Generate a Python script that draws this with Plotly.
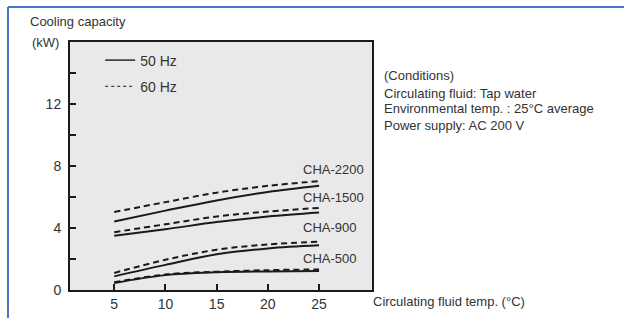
import plotly.graph_objects as go

temps = [5, 10, 15, 20, 25]
models = ["CHA-2200", "CHA-1500", "CHA-900", "CHA-500"]
cap_50hz = {
    "CHA-2200": [4.42, 5.12, 5.78, 6.32, 6.72],
    "CHA-1500": [3.50, 3.92, 4.38, 4.74, 5.00],
    "CHA-900": [0.88, 1.62, 2.30, 2.68, 2.88],
    "CHA-500": [0.45, 0.96, 1.14, 1.20, 1.22],
}
cap_60hz = {
    "CHA-2200": [5.03, 5.67, 6.28, 6.72, 7.02],
    "CHA-1500": [3.73, 4.24, 4.74, 5.06, 5.30],
    "CHA-900": [1.10, 1.95, 2.60, 2.94, 3.12],
    "CHA-500": [0.50, 1.00, 1.18, 1.28, 1.33],
}
label_y = [7.78, 5.98, 4.05, 2.06]
legend_names = ["50 Hz", "60 Hz"]
y_tickvals = [0, 2, 4, 6, 8, 10, 12, 14]
y_ticktext = ["0", "", "4", "", "8", "", "12", ""]
x_tickvals = [5, 10, 15, 20, 25]
conditions = ["(Conditions)", "Circulating fluid: Tap water",
              "Environmental temp. : 25°C average", "Power supply: AC 200 V"]
conditions_y = [0.863, 0.794, 0.730, 0.665]

FONT = "Liberation Sans, Arial, sans-serif"
INK = "#1a1a1a"
TXT = "#333333"

fig = go.Figure()
for i, m in enumerate(models):
    fig.add_trace(go.Scatter(x=temps, y=cap_60hz[m], mode="lines", line_shape="spline",
                             line=dict(color=INK, width=2, dash="6px,4px"),
                             showlegend=False, hoverinfo="skip"))
    fig.add_trace(go.Scatter(x=temps, y=cap_50hz[m], mode="lines", line_shape="spline",
                             line=dict(color=INK, width=2),
                             showlegend=False, hoverinfo="skip"))
fig.add_trace(go.Scatter(x=[None], y=[None], mode="lines", name=legend_names[0],
                         line=dict(color="#444", width=1.6), legendgroup="a"))
fig.add_trace(go.Scatter(x=[None], y=[None], mode="lines", name=legend_names[1],
                         line=dict(color="#444", width=1.2, dash="3px,3px"), legendgroup="b"))

for m, ly in zip(models, label_y):
    fig.add_annotation(x=23.2, y=ly, text=m, showarrow=False, xanchor="left",
                       yanchor="middle", font=dict(family=FONT, size=13, color=TXT))

fig.update_layout(
    width=624, height=318,
    margin=dict(l=70, r=252, t=42, b=28, autoexpand=False),
    paper_bgcolor="white", plot_bgcolor="#e9e9e9",
    font=dict(family=FONT, size=14, color=TXT),
    showlegend=True,
    legend=dict(x=0.1, y=0.99, xanchor="left", yanchor="top", bgcolor="rgba(0,0,0,0)",
                font=dict(family=FONT, size=14, color=TXT), tracegroupgap=5,
                itemwidth=30),
    xaxis=dict(range=[0.68, 30.17], tickvals=x_tickvals, ticks="inside", ticklen=6,
               tickwidth=1.5, tickcolor=INK, showgrid=False, zeroline=False,
               showline=True, linecolor=INK, linewidth=2, mirror=True,
               ticklabelstandoff=0, automargin=False,
               tickfont=dict(family=FONT, size=14, color=TXT)),
    yaxis=dict(range=[0, 16], tickvals=y_tickvals, ticktext=y_ticktext, ticks="inside",
               ticklen=6, tickwidth=1.5, tickcolor=INK, showgrid=False, zeroline=False,
               showline=True, linecolor=INK, linewidth=2, mirror=True,
               ticklabelstandoff=4, automargin=False,
               tickfont=dict(family=FONT, size=14, color=TXT)),
)

fig.add_annotation(xref="paper", yref="paper", x=-0.139, y=1.081, text="Cooling capacity",
                   showarrow=False, xanchor="left", yanchor="middle",
                   font=dict(family=FONT, size=13, color=TXT))
fig.add_annotation(xref="paper", yref="paper", x=-0.132, y=0.996, text="(kW)",
                   showarrow=False, xanchor="left", yanchor="middle",
                   font=dict(family=FONT, size=13, color=TXT))
fig.add_annotation(xref="paper", yref="paper", x=0.997, y=-0.045, text="Circulating fluid temp. (°C)",
                   showarrow=False, xanchor="left", yanchor="middle",
                   font=dict(family=FONT, size=13, color=TXT))
for line, cy in zip(conditions, conditions_y):
    fig.add_annotation(xref="paper", yref="paper", x=1.033, y=cy, text=line,
                       showarrow=False, xanchor="left", yanchor="middle", align="left",
                       font=dict(family=FONT, size=13, color=TXT))

fig.add_shape(type="line", xref="paper", yref="paper", x0=-0.2053, x1=1.9, y0=1.141, y1=1.141,
              line=dict(color="#4a74c4", width=2))
fig.add_shape(type="line", xref="paper", yref="paper", x0=-0.2053, x1=-0.2053, y0=1.141, y1=-0.2,
              line=dict(color="#4a74c4", width=2))

fig.write_html("out.html", post_script="document.body.style.margin='0px';",
               config={"displayModeBar": False})
